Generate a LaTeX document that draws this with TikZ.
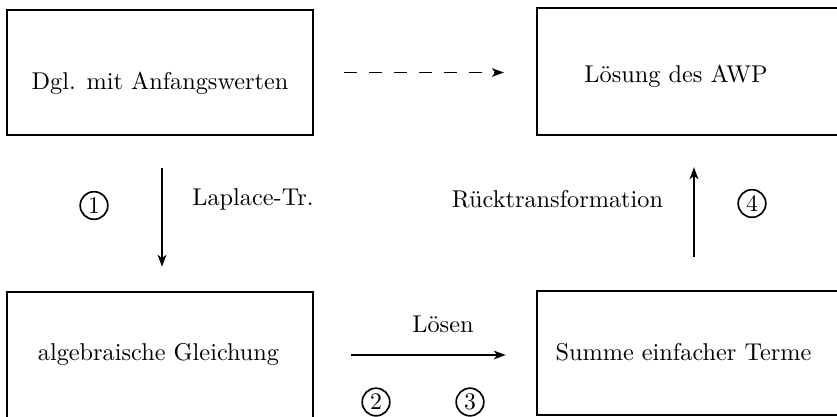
\documentclass[tikz,border=0pt]{standalone}
\usetikzlibrary{arrows.meta}
\begin{document}
\begin{tikzpicture}[x=0.42pt,y=-0.42pt,
  boxnode/.style={draw,line width=1pt,rectangle,inner sep=0pt},
  txt/.style={anchor=base,inner sep=0pt,font=\fontsize{10.2}{12}\selectfont},
  num/.style={draw,circle,line width=0.7pt,inner sep=0pt,minimum size=11.6pt,font=\fontsize{10}{11}\selectfont},
  arr/.style={line width=0.8pt,-{Stealth[length=5pt,width=3.6pt,inset=1.4pt]}}]
\useasboundingbox (0,0) rectangle (837,416);
\clip (0,0) rectangle (837,416);
% boxes
\node[boxnode,minimum width=128.52pt,minimum height=52.5pt] (box1) at (160,72.5) {};
\node[boxnode,minimum width=152.46pt,minimum height=53.34pt] (box2) at (718.5,71.5) {};
\node[boxnode,minimum width=128.52pt,minimum height=63pt] (box3) at (160,367) {};
\node[boxnode,minimum width=152.46pt,minimum height=52.08pt] (box4) at (718.5,353) {};
% box texts
\node[txt] (t1) at (160,89) {Dgl. mit Anfangswerten};
\node[txt] (t2) at (676,82) {Lösung des AWP};
\node[txt] (t3) at (158.5,360) {algebraische Gleichung};
\node[txt] (t4) at (683.5,360) {Summe einfacher Terme};
% labels
\node[txt] (l1) at (253,205) {Laplace-Tr.};
\node[txt] (l2) at (557.5,207) {Rücktransformation};
\node[txt] (l3) at (443,332) {Lösen};
% circled numbers
\node[num] (n1) at (94,205.5) {1};
\node[num] (n2) at (376,402) {2};
\node[num] (n3) at (470,402) {3};
\node[num] (n4) at (752,203.5) {4};
% connectors
\draw[arr,dash pattern=on 5.5pt off 5pt,shorten <=12.6pt,shorten >=13.44pt]
  (box1.east) -- (box1.east -| box2.west);
\draw[arr,shorten <=13.44pt,shorten >=10.08pt]
  ([xshift=0.84pt]box1.south) -- ([xshift=0.84pt]box1.south |- box3.north);
\draw[arr,shorten <=13.86pt,shorten >=13.02pt]
  ([xshift=-10.29pt]box4.north) -- ([xshift=-10.29pt]box2.south);
\draw[arr,shorten <=15.54pt,shorten >=12.6pt]
  ([yshift=-0.84pt]box4.west -| box3.east) -- ([yshift=-0.84pt]box4.west);
\end{tikzpicture}
\end{document}
